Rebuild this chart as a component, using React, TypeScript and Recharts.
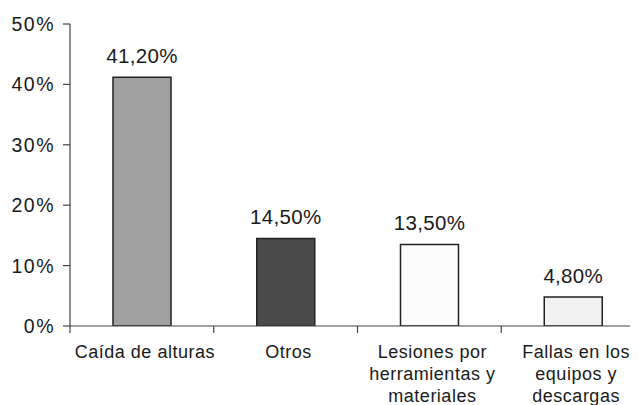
import React from "react";
import { BarChart, Bar, XAxis, YAxis, Cell, LabelList } from "recharts";

// Accident causes and their share of the total (percent)
const categories = [
  "Caída de alturas",
  "Otros",
  "Lesiones por\nherramientas y\nmateriales",
  "Fallas en los\nequipos y\ndescargas",
];
const shares = [41.2, 14.5, 13.5, 4.8];
const yTicks = [0, 10, 20, 30, 40, 50];
const barFills = ["#a0a0a0", "#4b4b4b", "#fbfbfb", "#f1f1f1"];

const data = categories.map((name, i) => ({ name, value: shares[i] }));

const CHART_W = 660;
const CHART_H = 420;
const MARGIN = { top: 16, right: 23, bottom: 2, left: 0 };
const Y_AXIS_W = 62;
const X_AXIS_H = 100;
const FONT = "'Liberation Sans', Arial, sans-serif";
const AXIS_COLOR = "#444";
const TEXT_COLOR = "#1a1a1a";

const plotLeft = MARGIN.left + Y_AXIS_W;
const plotRight = CHART_W - MARGIN.right;
const plotBottom = CHART_H - MARGIN.bottom - X_AXIS_H;
const bandWidth = (plotRight - plotLeft) / categories.length;

const formatPct = (v: number) => `${v.toFixed(2).replace(".", ",")}%`;

// Category label, possibly on several lines, with a tick mark at the band's left edge
const CategoryTick = (props: any) => {
  const { x, payload } = props;
  const lines = String(payload.value).split("\n");
  const edge = x - bandWidth / 2;
  const cx = x + 3;
  return (
    <g>
      <line x1={edge} y1={plotBottom} x2={edge} y2={plotBottom + 7} stroke={AXIS_COLOR} strokeWidth={1.2} />
      <text
        x={cx}
        y={plotBottom + 32}
        textAnchor="middle"
        fontFamily={FONT}
        fontSize={18}
        letterSpacing={0.5}
        fill={TEXT_COLOR}
      >
        {lines.map((line, i) => (
          <tspan key={i} x={cx} dy={i === 0 ? 0 : 21.8}>
            {line}
          </tspan>
        ))}
      </text>
    </g>
  );
};

export default function App() {
  return (
    <div style={{ width: 630, height: 397, overflow: "hidden" }}>
      <BarChart width={CHART_W} height={CHART_H} data={data} margin={MARGIN} barSize={58}>
        <XAxis
          dataKey="name"
          height={X_AXIS_H}
          tickLine={false}
          axisLine={{ stroke: AXIS_COLOR, strokeWidth: 1.2 }}
          tick={<CategoryTick />}
          interval={0}
        />
        <YAxis
          width={Y_AXIS_W}
          domain={[0, 50]}
          ticks={yTicks}
          tickFormatter={(v: number) => `${v}%`}
          tickSize={7}
          tickMargin={8}
          axisLine={{ stroke: AXIS_COLOR, strokeWidth: 1.2 }}
          tickLine={{ stroke: AXIS_COLOR, strokeWidth: 1.2 }}
          tick={{ fontFamily: FONT, fontSize: 19.5, fill: TEXT_COLOR, letterSpacing: 1.5 }}
          allowDataOverflow
        />
        <Bar dataKey="value" stroke="#222" strokeWidth={1.5} isAnimationActive={false}>
          {data.map((d, i) => (
            <Cell key={d.name} fill={barFills[i]} />
          ))}
          <LabelList
            dataKey="value"
            position="top"
            offset={14}
            formatter={(v: any) => formatPct(Number(v))}
            style={{ fontFamily: FONT, fontSize: 20.5, fill: TEXT_COLOR, letterSpacing: 0.3 }}
          />
        </Bar>
      </BarChart>
    </div>
  );
}
